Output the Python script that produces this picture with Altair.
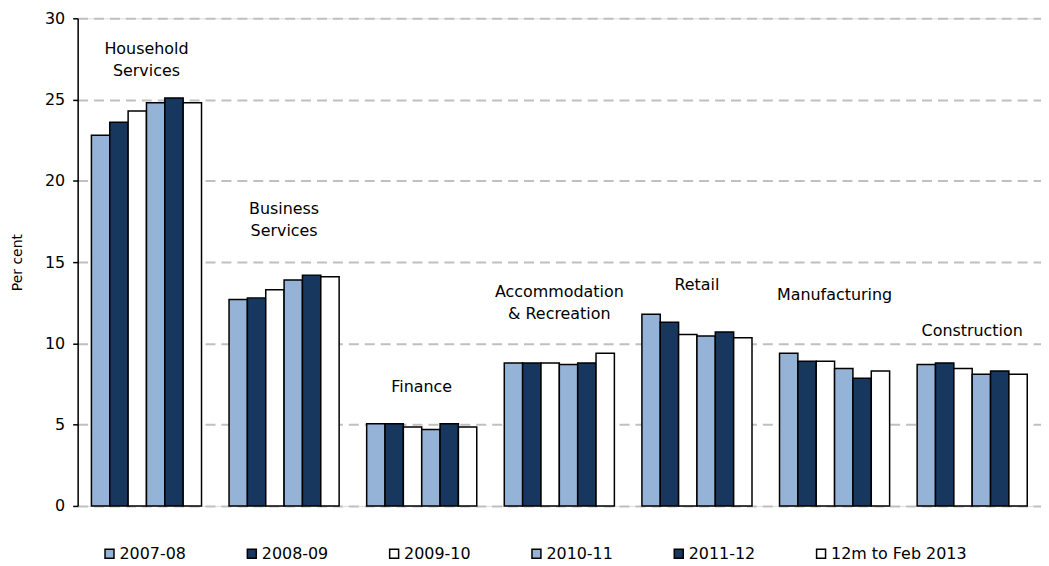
import altair as alt
import pandas as pd

categories = ["Household Services", "Business Services", "Finance",
              "Accommodation & Recreation", "Retail", "Manufacturing", "Construction"]
series = ["2007-08", "2008-09", "2009-10", "2010-11", "2011-12", "12m to Feb 2013"]
colors = ["#95B3D7", "#17375E", "#FFFFFF", "#95B3D7", "#17375E", "#FFFFFF"]

household = [22.8, 23.6, 24.3, 24.8, 25.1, 24.8]
business = [12.7, 12.8, 13.3, 13.9, 14.2, 14.1]
finance = [5.05, 5.05, 4.85, 4.7, 5.05, 4.85]
accommodation = [8.8, 8.8, 8.8, 8.7, 8.8, 9.4]
retail = [11.8, 11.3, 10.55, 10.45, 10.7, 10.35]
manufacturing = [9.4, 8.9, 8.9, 8.45, 7.85, 8.3]
construction = [8.7, 8.8, 8.45, 8.1, 8.3, 8.1]

values = [household, business, finance, accommodation, retail, manufacturing, construction]

label_text = ["Household\nServices", "Business\nServices", "Finance",
              "Accommodation\n& Recreation", "Retail", "Manufacturing", "Construction"]
label_y = [27.6, 17.8, 6.8, 12.65, 13.1, 12.5, 10.3]

rows = []
for cat, vals in zip(categories, values):
    for s, v in zip(series, vals):
        rows.append({"Category": cat, "Series": s, "Value": v})
df = pd.DataFrame(rows)

lab = pd.DataFrame({"Category": categories, "Label": label_text, "Y": label_y})

FONT = "DejaVu Sans"

xscale = alt.Scale(domain=categories, paddingInner=0.2, paddingOuter=0.1)
yscale = alt.Scale(domain=[0, 30])

bars = alt.Chart(df).mark_bar(stroke="black", strokeWidth=1.5).encode(
    x=alt.X("Category:N", scale=xscale, axis=None, title=None),
    xOffset=alt.XOffset("Series:N", scale=alt.Scale(domain=series, paddingInner=0, paddingOuter=0)),
    y=alt.Y("Value:Q", scale=yscale,
            axis=alt.Axis(values=[0, 5, 10, 15, 20, 25, 30], title="Per cent",
                          titleFont=FONT, titleFontSize=14, titleFontWeight="normal",
                          titleColor="black", titlePadding=20,
                          labelFont=FONT, labelFontSize=16, labelColor="black",
                          labelPadding=8, tickSize=5, tickColor="black", tickWidth=1.5,
                          domainColor="black", domainWidth=1.5,
                          grid=True, gridColor="#C0C0C0", gridDash=[10, 6], gridWidth=2)),
    fill=alt.Fill("Series:N", scale=alt.Scale(domain=series, range=colors),
                  legend=alt.Legend(title=None, orient="none", direction="horizontal",
                                    legendX=24, legendY=530, symbolType="square",
                                    symbolSize=81, symbolStrokeColor="black",
                                    symbolStrokeWidth=1.5, labelFont=FONT,
                                    labelFontSize=16, labelColor="black",
                                    labelOffset=2, columnPadding=58)),
)

texts = alt.Chart(lab).mark_text(font=FONT, fontSize=16, baseline="bottom",
                                 lineBreak="\n", lineHeight=22, color="black").encode(
    x=alt.X("Category:N", scale=xscale, axis=None),
    y=alt.Y("Y:Q", scale=yscale),
    text="Label:N",
)

chart = alt.layer(bars, texts).properties(
    width=968, height=490,
    autosize=alt.AutoSizeParams(type="none"),
    padding={"left": 70, "top": 9, "right": 0, "bottom": 58},
).configure_view(stroke=None).configure(background="white")

chart.save("out.html", embed_options={"renderer": "svg", "actions": False})
